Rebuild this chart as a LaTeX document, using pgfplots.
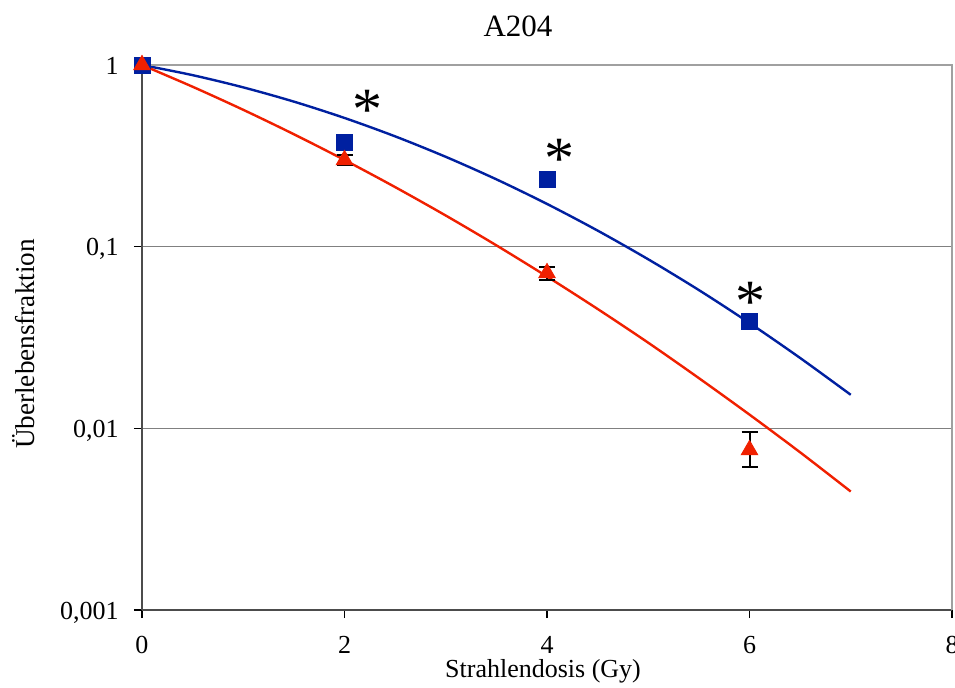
\documentclass[border=0pt]{standalone}
\usepackage{fontspec}
\setmainfont{Liberation Serif}
\usepackage{pgfplots}
\pgfplotsset{compat=1.18}
\usetikzlibrary{calc}
\definecolor{cblue}{RGB}{0,32,160}
\definecolor{cred}{RGB}{240,32,0}
\definecolor{gline}{RGB}{128,128,128}
\definecolor{gframe}{RGB}{160,160,160}

\begin{document}
\begin{tikzpicture}
\fontsize{13}{15}\selectfont
\begin{axis}[
  name=ax,
  scale only axis,
  width=405pt, height=272.5pt,
  ymode=log,
  xmin=0, xmax=8, ymin=0.001, ymax=1,
  xtick={0,2,4,6,8},
  ytick={0.001,0.01,0.1,1},
  yticklabels={{0,001},{0,01},{0,1},1},
  yminorticks=false,
  axis lines*=left,
  axis line style={-, draw=black!70, line width=1pt},
  ymajorgrids, grid style={gline, line width=0.6pt},
  tick align=outside,
  major tick length=4pt,
  tick style={black, line width=0.6pt},
  every tick label/.append style={font=\fontsize{13}{15}\selectfont},
  /pgf/number format/assume math mode=true,
  xticklabel style={anchor=base, inner sep=0pt, yshift=-17.5pt},
  yticklabel style={anchor=base east, inner sep=0pt, xshift=-7.5pt, yshift=-4.5pt},
  clip=false,
]
% fitted survival curves
\addplot[cblue, line width=1.2pt, smooth] coordinates {
  (0,1) (0.5,0.8793) (1,0.7533) (1.5,0.6287) (2,0.5111) (2.5,0.4048)
  (3,0.3123) (3.5,0.2348) (4,0.1719) (4.5,0.1226) (5,0.0852)
  (5.5,0.0577) (6,0.0380) (6.5,0.0244) (7,0.0153)
};
\addplot[cred, line width=1.2pt, smooth] coordinates {
  (0,1) (0.5,0.7592) (1,0.5667) (1.5,0.4158) (2,0.3000) (2.5,0.2128)
  (3,0.1484) (3.5,0.1017) (4,0.0685) (4.5,0.0454) (5,0.0296)
  (5.5,0.0189) (6,0.0119) (6.5,0.00738) (7,0.00449)
};
% measured points
\addplot[only marks, mark=square*, mark size=4pt, mark options={fill=cblue, draw=cblue}] coordinates {
  (0,1) (2,0.377) (4,0.234) (6,0.0388)
};
\addplot[only marks, mark=triangle*, mark size=4.8pt, mark options={fill=cred, draw=cred},
  error bars/.cd, y dir=both, y explicit,
  error mark options={rotate=90, mark size=4pt, black, line width=1pt},
  error bar style={black, line width=1pt}] coordinates {
  (0,1) +- (0,0)
  (2,0.30) +- (0,0.018)
  (4,0.0716) += (0,0.0057) -= (0,0.006)
  (6,0.0076) += (0,0.0019) -= (0,0.0015)
};
% significance asterisks
\addplot[only marks, mark=none, nodes near coords={*},
  every node near coord/.append style={anchor=center, font=\fontsize{30}{30}\selectfont, yshift=-3.5pt}]
  coordinates {(2.23,0.618) (4.12,0.332) (6.01,0.0542)};
\draw[gframe, line width=1pt] (rel axis cs:0,1) -- (rel axis cs:1,1) -- (rel axis cs:1,0);
\end{axis}
\node[anchor=base, font=\fontsize{15.5}{18}\selectfont] at ($(ax.north west)+(188pt,14pt)$) {A204};
\node[anchor=base] at ($(ax.south west)+(200.5pt,-33.5pt)$) {Strahlendosis (Gy)};
\node[rotate=90, anchor=base, font=\fontsize{13.6}{16}\selectfont] at ($(ax.south west)+(-53.5pt,133pt)$) {Überlebensfraktion};
\pgfresetboundingbox
\path[use as bounding box] ($(ax.south west)+(-71pt,-38.5pt)$) rectangle ($(ax.north east)+(1.5pt,32.5pt)$);
\end{tikzpicture}
\end{document}
